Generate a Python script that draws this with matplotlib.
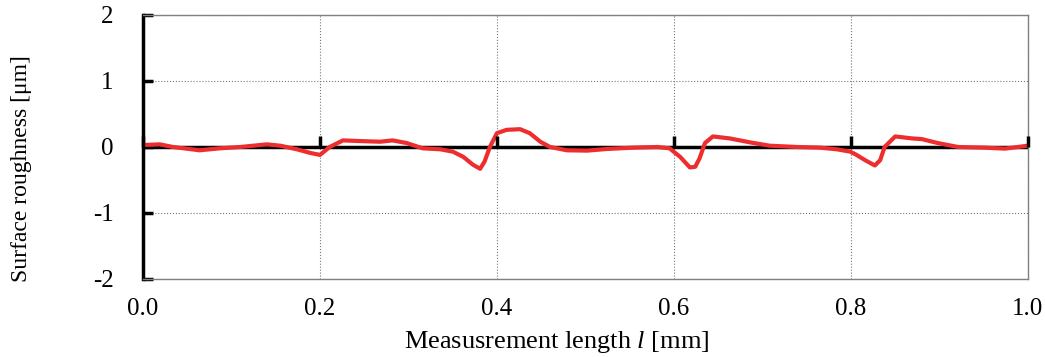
import numpy as np
import matplotlib.pyplot as plt

# profile (x in mm, height in um)
length = [0.0, 0.019, 0.034, 0.064, 0.087, 0.11, 0.14, 0.155, 0.174, 0.189, 0.2,
          0.211, 0.226, 0.245, 0.268, 0.282, 0.298, 0.316, 0.336, 0.35, 0.362,
          0.373, 0.381, 0.386, 0.392, 0.4, 0.411, 0.426, 0.437, 0.449, 0.46,
          0.479, 0.502, 0.524, 0.554, 0.581, 0.595, 0.607, 0.618, 0.624, 0.629,
          0.635, 0.644, 0.663, 0.686, 0.708, 0.739, 0.765, 0.784, 0.799, 0.805,
          0.816, 0.827, 0.833, 0.838, 0.85, 0.869, 0.88, 0.898, 0.921, 0.951,
          0.974, 1.0]
roughness = [0.03, 0.04, 0.0, -0.05, -0.02, 0.0, 0.04, 0.02, -0.035, -0.09, -0.12,
             0.0, 0.1, 0.09, 0.08, 0.1, 0.06, -0.02, -0.035, -0.07, -0.15,
             -0.27, -0.33, -0.22, 0.0, 0.21, 0.26, 0.27, 0.21, 0.08, 0.0,
             -0.05, -0.055, -0.03, -0.01, 0.0, -0.02, -0.15, -0.31, -0.3, -0.17,
             0.06, 0.16, 0.13, 0.07, 0.02, 0.0, -0.01, -0.035, -0.07, -0.11,
             -0.2, -0.28, -0.2, 0.0, 0.16, 0.13, 0.12, 0.06, 0.0, -0.01,
             -0.025, 0.02]

xticks = [0.0, 0.2, 0.4, 0.6, 0.8, 1.0]
yticks = [-2, -1, 0, 1, 2]

plt.rcParams['font.family'] = 'Liberation Serif'
plt.rcParams['mathtext.fontset'] = 'custom'
plt.rcParams['mathtext.it'] = 'Liberation Serif:italic'
plt.rcParams['axes.unicode_minus'] = False

fig = plt.figure(figsize=(10.45, 3.57), dpi=100)
ax = fig.add_axes([0.1368, 0.2185, 0.8469, 0.7395])

ax.set_xlim(0, 1.0)
ax.set_ylim(-2, 2)
ax.set_xticks(xticks)
ax.set_yticks(yticks)
ax.set_xticklabels(['%.1f' % v for v in xticks])

ax.grid(True, linestyle=':', color='#777777', lw=0.8)
for s in ['top', 'right', 'bottom']:
    ax.spines[s].set_color('#808080')
    ax.spines[s].set_linewidth(1)
ax.spines['left'].set_linewidth(2.5)

ax.tick_params(axis='x', length=0, pad=14, labelsize=18)
ax.tick_params(axis='y', direction='in', length=7, width=2.5, pad=21, labelsize=18)

# x axis drawn through zero with upward ticks
ax.axhline(0, color='black', lw=2.5, zorder=2)
ax.plot(xticks, np.zeros(len(xticks)), ls='none', marker=2, ms=8, mew=2.5,
        color='black', zorder=4, clip_on=False)

ax.plot(length, roughness, color='#ee2e2e', lw=3, zorder=3)

ax.set_xlabel(r'Measusrement length $\mathit{l}$ [mm]', fontsize=19, labelpad=0)
ax.xaxis.set_label_coords(0.468, -0.188)
ax.set_ylabel('Surface roughness [μm]', fontsize=17)
ax.yaxis.set_label_coords(-0.125, 0.42)

fig.savefig('out.png', dpi=100)
